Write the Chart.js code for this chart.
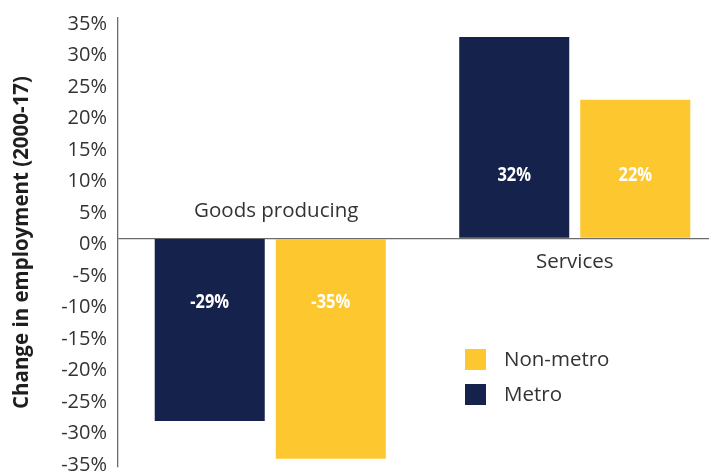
<!DOCTYPE html>
<html>
<head>
<meta charset="utf-8">
<script src="https://cdn.jsdelivr.net/npm/chart.js@4.4.1/dist/chart.umd.min.js"></script>
<style>
  html, body { margin: 0; padding: 0; background: #fff; overflow: hidden; }
  #wrap { position: relative; width: 728px; height: 473px; }
</style>
</head>
<body>
<div id="wrap"><canvas id="employmentChart" width="728" height="473"></canvas></div>
<script>
// Employment change by sector, 2000-17
const sectors = ["Goods producing", "Services"];
const seriesNames = ["Metro", "Non-metro"];
const metroChange = [-29, 32];
const nonMetroChange = [-35, 22];
const seriesColors = ["#15224b", "#fdc82f"];
const tickValues = [35, 30, 25, 20, 15, 10, 5, 0, -5, -10, -15, -20, -25, -30, -35];

const FONT = "'Open Sans', 'DejaVu Sans', sans-serif";
const TEXT = "#333333";

// sector names sit on the opposite side of the zero line from their bars
const sectorLabels = {
    id: "sectorLabels",
    afterDatasetsDraw(chart) {
        const { ctx, scales: { x, y } } = chart;
        const zero = y.getPixelForValue(0);
        ctx.save();
        ctx.font = `20.5px ${FONT}`;
        ctx.fillStyle = TEXT;
        ctx.textAlign = "center";
        ctx.textBaseline = "middle";
        sectors.forEach((name, i) => {
            const neg = metroChange[i] < 0;
            ctx.fillText(name, x.getPixelForValue(i) + (neg ? 6 : 0), neg ? zero - 27 : zero + 24);
        });
        ctx.restore();
    }
};

// percentage inside each bar, a fixed distance from zero (squeezed to look condensed)
const valueLabels = {
    id: "valueLabels",
    afterDatasetsDraw(chart) {
        const { ctx, scales: { y } } = chart;
        const squeeze = 0.82;
        ctx.save();
        ctx.font = `bold 20px ${FONT}`;
        ctx.fillStyle = "#ffffff";
        ctx.textAlign = "center";
        ctx.textBaseline = "middle";
        chart.data.datasets.forEach((ds, di) => {
            chart.getDatasetMeta(di).data.forEach((bar, i) => {
                const v = ds.data[i];
                const ty = y.getPixelForValue(v < 0 ? -10.2 : 10);
                ctx.save();
                ctx.translate(bar.x, ty);
                ctx.scale(squeeze, 1);
                ctx.fillText(`${v}%`, 0, 0);
                ctx.restore();
            });
        });
        ctx.restore();
    }
};

// legend box inside the plot, last series on top
const boxLegend = {
    id: "boxLegend",
    afterDraw(chart, args, opts) {
        const { ctx } = chart;
        const sets = chart.data.datasets.slice().reverse();
        ctx.save();
        ctx.font = `20.5px ${FONT}`;
        ctx.textBaseline = "middle";
        sets.forEach((ds, i) => {
            const top = opts.y + i * opts.rowGap;
            ctx.fillStyle = ds.backgroundColor;
            ctx.fillRect(opts.x, top, opts.box, opts.box);
            ctx.fillStyle = TEXT;
            ctx.fillText(ds.label, opts.x + opts.box + 18, top + opts.box / 2 + 1);
        });
        ctx.restore();
    }
};

new Chart(document.getElementById("employmentChart"), {
    type: "bar",
    data: {
        labels: sectors,
        datasets: [
            { label: seriesNames[0], data: metroChange, backgroundColor: seriesColors[0] },
            { label: seriesNames[1], data: nonMetroChange, backgroundColor: seriesColors[1] },
        ],
    },
    options: {
        responsive: false,
        animation: false,
        devicePixelRatio: 1,
        categoryPercentage: 0.795,
        barPercentage: 0.909,
        layout: { padding: { top: 18, bottom: 6, left: 0, right: 1 } },
        plugins: {
            legend: { display: false },
            tooltip: { enabled: false },
            boxLegend: { x: 465, y: 349, box: 21, rowGap: 35 },
        },
        scales: {
            x: { display: false },
            y: {
                min: -36.3,
                max: 35,
                afterBuildTicks(scale) {
                    scale.ticks = tickValues.map(v => ({ value: v }));
                },
                afterFit(scale) {
                    scale.width = 118;
                    scale.paddingTop = 0;
                    scale.paddingBottom = 0;
                },
                border: { color: "#6b6b6b", width: 1.3 },
                grid: {
                    drawTicks: false,
                    lineWidth: 1.3,
                    color: c => (c.tick && c.tick.value === 0 ? "#6b6b6b" : "transparent"),
                },
                ticks: {
                    autoSkip: false,
                    padding: 11,
                    labelOffset: 6,
                    color: TEXT,
                    font: { family: FONT, size: 20 },
                    callback: v => `${v}%`,
                },
                title: {
                    display: true,
                    text: "Change in employment (2000-17)",
                    color: "#1e1e1e",
                    font: { family: FONT, size: 20.5, weight: "bold" },
                    padding: { top: 10, bottom: 0 },
                },
            },
        },
    },
    plugins: [sectorLabels, valueLabels, boxLegend],
});
</script>
</body>
</html>
